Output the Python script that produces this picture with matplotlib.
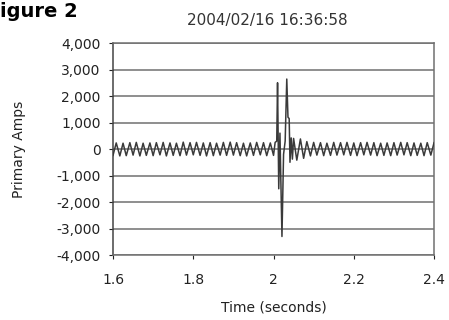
import matplotlib.pyplot as plt

plt.rcParams['font.family'] = ['DejaVu Sans']

# steady load current before the fault (1/120 s half-cycle peaks)
t_pre = [1.600, 1.608, 1.617, 1.625, 1.633, 1.642, 1.650, 1.658, 1.667, 1.675, 1.683, 1.692,
         1.700, 1.708, 1.717, 1.725, 1.733, 1.742, 1.750, 1.758, 1.767, 1.775, 1.783, 1.792,
         1.800, 1.808, 1.817, 1.825, 1.833, 1.842, 1.850, 1.858, 1.867, 1.875, 1.883, 1.892,
         1.900, 1.908, 1.917, 1.925, 1.933, 1.942, 1.950, 1.958, 1.967, 1.975, 1.983, 1.992,
         2.000]
i_pre = [-240, 230, -260, 220, -250, 240, -230, 250, -260, 220, -240, 230,
         -250, 240, -220, 250, -260, 230, -240, 220, -250, 260, -230, 240,
         -220, 250, -240, 230, -260, 240, -250, 220, -230, 250, -240, 260,
         -230, 240, -250, 220, -260, 230, -240, 250, -220, 240, -250, 230,
         -240]

# fault transient
t_fault = [2.004, 2.008, 2.010, 2.013, 2.016, 2.018, 2.021, 2.025, 2.029, 2.033,
           2.036, 2.039, 2.041, 2.044, 2.047]
i_fault = [250, 300, 2500, -1500, 600, -1000, -3300, -200, 300, 2640,
           1200, 1150, -500, 420, -380]

# after the fault
t_post = [2.050, 2.058, 2.067, 2.075, 2.083, 2.092,
          2.100, 2.108, 2.117, 2.125, 2.133, 2.142, 2.150, 2.158, 2.167, 2.175, 2.183, 2.192,
          2.200, 2.208, 2.217, 2.225, 2.233, 2.242, 2.250, 2.258, 2.267, 2.275, 2.283, 2.292,
          2.300, 2.308, 2.317, 2.325, 2.333, 2.342, 2.350, 2.358, 2.367, 2.375, 2.383, 2.392,
          2.400]
i_post = [400, -420, 380, -350, 280, -260,
          250, -230, 240, -250, 220, -240, 250, -230, 240, -220, 250, -240,
          230, -250, 240, -220, 250, -230, 240, -250, 220, -240, 230, -250,
          240, -230, 250, -220, 240, -250, 230, -240, 220, -250, 240, -230,
          240]

x_ticks = [1.6, 1.8, 2.0, 2.2, 2.4]
x_labels = ['1.6', '1.8', '2', '2.2', '2.4']
y_ticks = [-4000, -3000, -2000, -1000, 0, 1000, 2000, 3000, 4000]

t = t_pre + t_fault + t_post
amps = i_pre + i_fault + i_post

fig = plt.figure(figsize=(4.49, 3.20), dpi=100)
ax = fig.add_axes([0.2517, 0.203, 0.715, 0.6626])

ax.plot(t, amps, color='#3a3a3a', lw=1.1, zorder=3)

ax.set_xlim(1.6, 2.4)
ax.set_ylim(-4000, 4000)
ax.set_xticks(x_ticks)
ax.set_xticklabels(x_labels)
ax.set_yticks(y_ticks)
ax.set_yticklabels([f'{v:,}' for v in y_ticks])
ax.yaxis.grid(True, color='#707070', lw=1.1)
ax.set_axisbelow(True)
ax.tick_params(labelsize=10, colors='#222222', length=3, width=0.8)
ax.tick_params(axis='x', pad=10)
ax.tick_params(axis='y', pad=6)
for s in ax.spines.values():
    s.set_color('#707070')
    s.set_linewidth(1.1)
ax.spines['left'].set_color('#444444')

ax.text(0.48, 1.104, '2004/02/16 16:36:58', transform=ax.transAxes,
        ha='center', va='center', fontsize=11, color='#333333')
ax.set_xlabel('Time (seconds)', fontsize=10, color='#222222')
ax.xaxis.set_label_coords(0.5, -0.215)
ax.set_ylabel('Primary Amps', fontsize=10, color='#222222', va='center')
ax.yaxis.set_label_coords(-0.293, 0.5)

fig.text(0.0, 1 - 17 / 320, 'igure 2', fontsize=14, fontweight='bold',
         color='black', va='baseline')

fig.savefig('out.png', dpi=100)
